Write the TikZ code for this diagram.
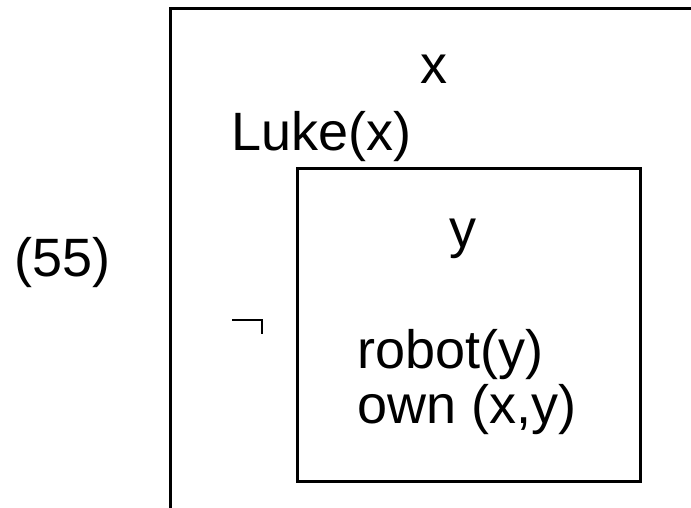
\documentclass[tikz,border=0pt]{standalone}
\usepackage{fontspec}
\setmainfont{Liberation Sans}
\begin{document}
\begin{tikzpicture}[x=1pt,y=-1pt,
  drs/.style={line width=3pt},
  term/.style={inner sep=0pt,font=\fontsize{54}{62}\selectfont}]
\useasboundingbox (0,0) rectangle (691,507);
% outer box (runs off the page to the right and below)
\draw[drs] (700,8) -- (170,8) -- (170,515);
% inner box
\draw[drs] (297,168) rectangle (640,481);
% negation sign
\draw[line width=2.2pt] (232,320) -- (262,320) -- (262,334);
% labels
\node[term,anchor=base] (ex) at (434,83) {x};
\node[term,anchor=base west] (luke) at (231,150) {Luke(x)};
\node[term,anchor=base] (ey) at (463,247) {y};
\node[term,anchor=base west] (robot) at (357,368) {robot(y)};
\node[term,anchor=base west] (own) at (357,423) {own (x,y)};
\node[term,anchor=base west] (num) at (14,276) {(55)};
\end{tikzpicture}
\end{document}
